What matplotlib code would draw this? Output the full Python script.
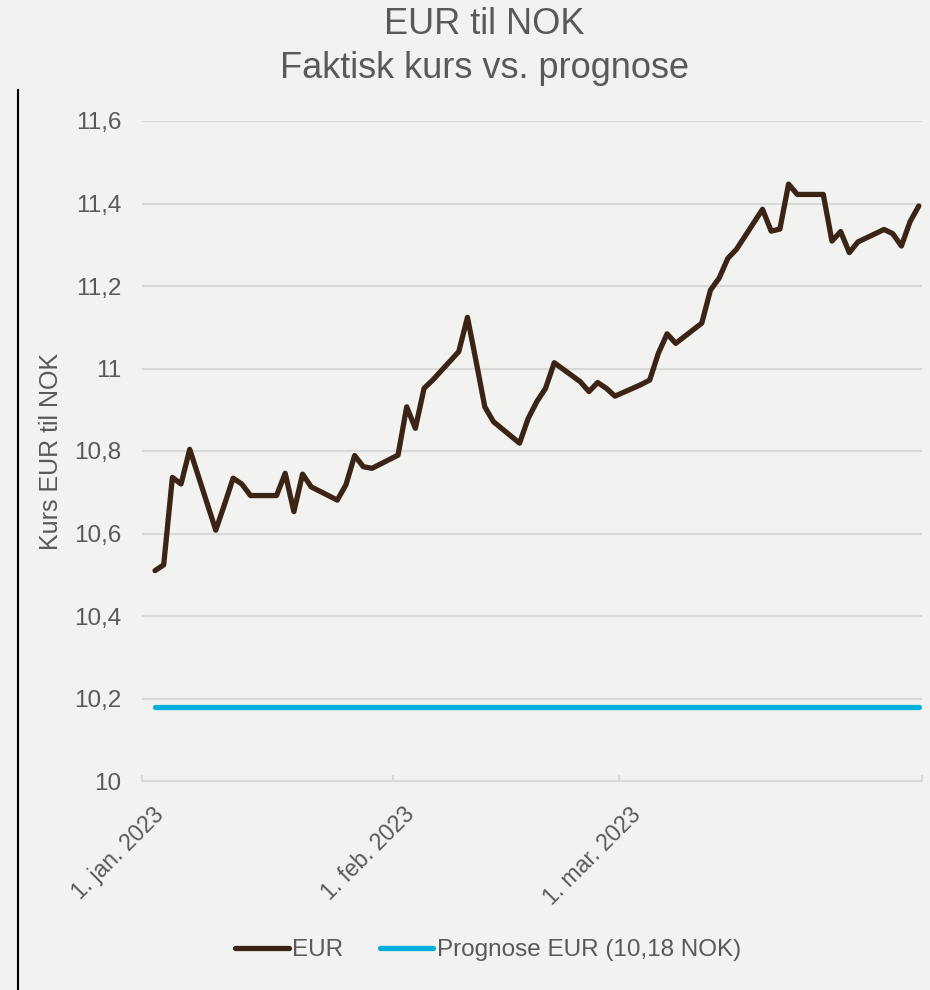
import numpy as np
import pandas as pd
import matplotlib
matplotlib.use('Agg')
import matplotlib.pyplot as plt
import matplotlib.dates as mdates
import matplotlib.transforms as mtransforms
from matplotlib.lines import Line2D

#%% DATA

dates = pd.bdate_range('2023-01-02', '2023-03-31')

eur = [10.51, 10.524, 10.736, 10.72, 10.804,
       10.608, 10.67, 10.734, 10.72, 10.692,
       10.692, 10.746, 10.653, 10.744, 10.713,
       10.681, 10.718, 10.789, 10.762, 10.758,
       10.79, 10.907, 10.855, 10.952, 10.972,
       11.041, 11.124, 11.017, 10.907, 10.871,
       10.819, 10.879, 10.92, 10.952, 11.014,
       10.968, 10.944, 10.966, 10.952, 10.933,
       10.961, 10.972, 11.037, 11.084, 11.061,
       11.110, 11.19, 11.219, 11.267, 11.289,
       11.386, 11.333, 11.338, 11.447, 11.422,
       11.422, 11.309, 11.332, 11.281, 11.307,
       11.337, 11.327, 11.297, 11.356, 11.394]

prognose = 10.18

yticks = [10, 10.2, 10.4, 10.6, 10.8, 11, 11.2, 11.4, 11.6]
xtick_labels = ['1. jan. 2023', '1. feb. 2023', '1. mar. 2023']
# where the labels sit on the reference axis
xtick_pos = [pd.Timestamp('2022-12-31 12:00'), pd.Timestamp('2023-01-29 10:00'),
             pd.Timestamp('2023-02-24 11:00')]
x_end = pd.Timestamp('2023-03-31 09:00')

#%% STYLE

bg = '#f2f2f0'
txt = '#595959'
grid = '#d9d9d9'
brown = '#3b2416'
blue = '#00b0da'

plt.rcParams['font.family'] = ['Liberation Sans', 'DejaVu Sans']

fig = plt.figure(figsize=(9.3, 9.9), dpi=100, facecolor=bg)
ax = fig.add_axes([142/930, 1 - 781/990, 780/930, 660/990], facecolor=bg)

ax.plot(dates, eur, color=brown, lw=3.8, solid_joinstyle='round',
        solid_capstyle='round', label='EUR')
ax.plot([dates[0], dates[-1]], [prognose, prognose], color=blue, lw=3.8,
        solid_capstyle='round', label='Prognose EUR (10,18 NOK)')

ax.set_xlim(xtick_pos[0], x_end)
ax.set_ylim(10, 11.6)

ax.set_yticks(yticks)
ax.set_yticklabels([('%g' % v).replace('.', ',') for v in yticks])
ax.yaxis.grid(True, color=grid, lw=1.5)
ax.set_axisbelow(True)
ax.tick_params(axis='y', length=0, pad=15, labelsize=17.5, labelcolor=txt)

# tick marks only, labels drawn by hand so they can hang like in Excel
ax.set_xticks(list(xtick_pos) + [x_end])
ax.set_xticklabels([])
ax.tick_params(axis='x', direction='in', length=4, width=1.5, color=grid)
lab_trans = ax.get_xaxis_transform() + mtransforms.ScaledTranslation(
    10/100, -22/100, fig.dpi_scale_trans)
for pos, lab in zip(xtick_pos, xtick_labels):
    ax.text(mdates.date2num(pos), 0, lab, transform=lab_trans, rotation=45,
            ha='right', va='top', rotation_mode='anchor', fontsize=16.5,
            color=txt)

for s in ['top', 'right', 'left']:
    ax.spines[s].set_visible(False)
ax.spines['bottom'].set_color(grid)
ax.spines['bottom'].set_linewidth(1.5)

ax.set_ylabel('Kurs EUR til NOK', fontsize=18, color=txt)
ax.yaxis.set_label_coords((63 - 142)/780, 0.5)

fig.text(484/930, 1 - 25/990, 'EUR til NOK', ha='center', va='center',
         fontsize=26, color=txt)
fig.text(484/930, 1 - 68/990, 'Faktisk kurs vs. prognose', ha='center',
         va='center', fontsize=26, color=txt)

leg = fig.legend(loc='center', bbox_to_anchor=(488/930, 1 - 950/990), ncol=2,
                 frameon=False, fontsize=17.5, handlelength=2.2,
                 handletextpad=0.15, columnspacing=1.5)
for t in leg.get_texts():
    t.set_color(txt)

# left border line
fig.add_artist(Line2D([18/930, 18/930], [0, 1 - 90/990], color='black', lw=1.5))

fig.savefig('out.png', dpi=100, facecolor=bg)
